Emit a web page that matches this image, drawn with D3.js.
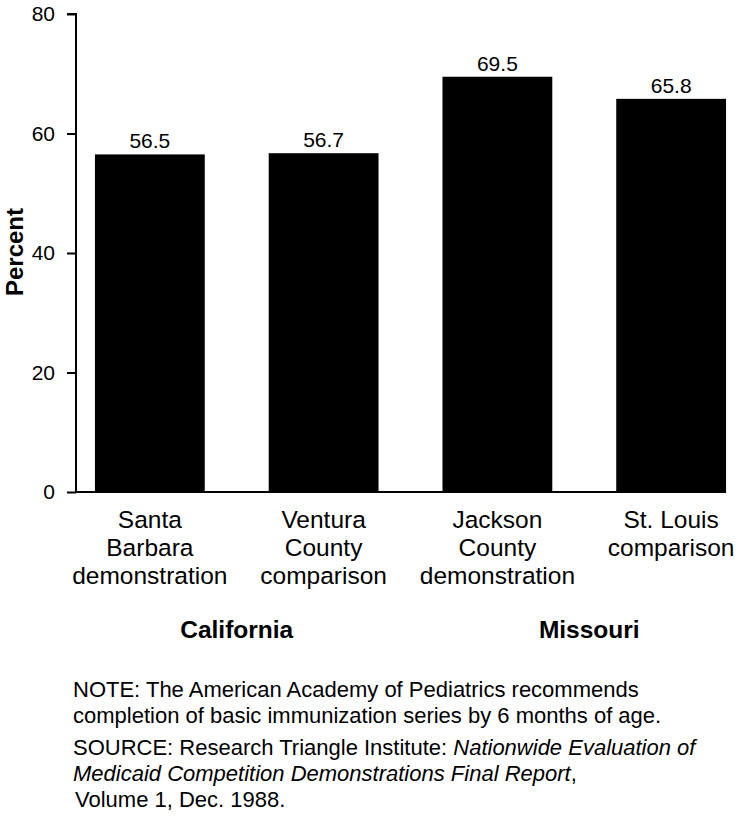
<!DOCTYPE html>
<html>
<head>
<meta charset="utf-8">
<script src="https://cdn.jsdelivr.net/npm/d3@7"></script>
<style>
  body { margin: 0; background: #fff; }
  svg { font-family: "Liberation Sans", Arial, Helvetica, sans-serif; }
</style>
</head>
<body>
<div id="chart-area"></div>
<script>
// immunization completion by 6 months, percent
var sites = ["Santa Barbara demonstration", "Ventura County comparison",
             "Jackson County demonstration", "St. Louis comparison"];
var siteLines = [["Santa", "Barbara", "demonstration"],
                 ["Ventura", "County", "comparison"],
                 ["Jackson", "County", "demonstration"],
                 ["St. Louis", "comparison"]];
var percents = [56.5, 56.7, 69.5, 65.8];
var states = ["California", "Missouri"];
var stateSites = [[0, 1], [2, 3]];
var yTicks = [0, 20, 40, 60, 80];

var svg = d3.select("#chart-area")
    .append("svg")
    .attr("width", 738)
    .attr("height", 816);

var x = d3.scaleBand()
    .domain(sites)
    .range([76, 745])
    .paddingInner(0.368)
    .paddingOuter(0.109);

var y = d3.scaleLinear()
    .domain([0, 80])
    .range([492, 14]);

// bars
svg.selectAll("rect.bar")
    .data(percents)
    .enter()
    .append("rect")
    .attr("class", "bar")
    .attr("x", (d, i) => x(sites[i]))
    .attr("y", d => y(d))
    .attr("width", x.bandwidth())
    .attr("height", d => y(0) - y(d))
    .attr("fill", "#000");

// value labels
svg.selectAll("text.val")
    .data(percents)
    .enter()
    .append("text")
    .attr("class", "val")
    .attr("x", (d, i) => x(sites[i]) + x.bandwidth() / 2)
    .attr("y", d => y(d) - 6)
    .attr("text-anchor", "middle")
    .style("font-size", "21px")
    .text(d => d.toFixed(1));

// y axis
var yAxis = svg.append("g")
    .attr("transform", "translate(76,0)")
    .call(d3.axisLeft(y).tickValues(yTicks).tickSize(9).tickPadding(12));
yAxis.select(".domain").attr("stroke-width", 2).attr("d", "M-9," + y(80) + "H0V" + y(0));
yAxis.selectAll(".tick line").attr("stroke-width", 2);
yAxis.selectAll(".tick text")
    .style("font-size", "21px")
    .attr("fill", "#000");

// baseline
svg.append("line")
    .attr("x1", 76)
    .attr("x2", x(sites[3]) + x.bandwidth())
    .attr("y1", y(0))
    .attr("y2", y(0))
    .attr("stroke", "#000")
    .attr("stroke-width", 2);

svg.append("text")
    .attr("transform", "translate(23," + (y(40) - 1) + ") rotate(-90)")
    .attr("text-anchor", "middle")
    .style("font-size", "24px")
    .style("font-weight", "bold")
    .text("Percent");

// category labels
siteLines.forEach(function(lines, i) {
    var t = svg.append("text")
        .attr("text-anchor", "middle")
        .style("font-size", "24.5px");
    lines.forEach(function(l, j) {
        t.append("tspan")
            .attr("x", x(sites[i]) + x.bandwidth() / 2)
            .attr("y", 528 + j * 28)
            .text(l);
    });
});

// state group labels
svg.selectAll("text.state")
    .data(states)
    .enter()
    .append("text")
    .attr("class", "state")
    .attr("x", function(d, i) {
        var a = stateSites[i][0], b = stateSites[i][1];
        return (x(sites[a]) + x(sites[b]) + x.bandwidth()) / 2 + (i == 1 ? 5 : 0);
    })
    .attr("y", 638)
    .attr("text-anchor", "middle")
    .style("font-size", "24.5px")
    .style("font-weight", "bold")
    .text(d => d);

// notes
var notes = svg.append("g").style("font-size", "22px");
notes.append("text").attr("x", 73).attr("y", 697)
    .text("NOTE: The American Academy of Pediatrics recommends");
notes.append("text").attr("x", 73).attr("y", 723)
    .text("completion of basic immunization series by 6 months of age.");
var s1 = notes.append("text").attr("x", 73).attr("y", 755);
s1.append("tspan").text("SOURCE: Research Triangle Institute: ");
s1.append("tspan").style("font-style", "italic").text("Nationwide Evaluation of");
var s2 = notes.append("text").attr("x", 73).attr("y", 781);
s2.append("tspan").style("font-style", "italic").text("Medicaid Competition Demonstrations Final Report");
s2.append("tspan").text(",");
notes.append("text").attr("x", 75).attr("y", 807)
    .text("Volume 1, Dec. 1988.");
</script>
</body>
</html>
